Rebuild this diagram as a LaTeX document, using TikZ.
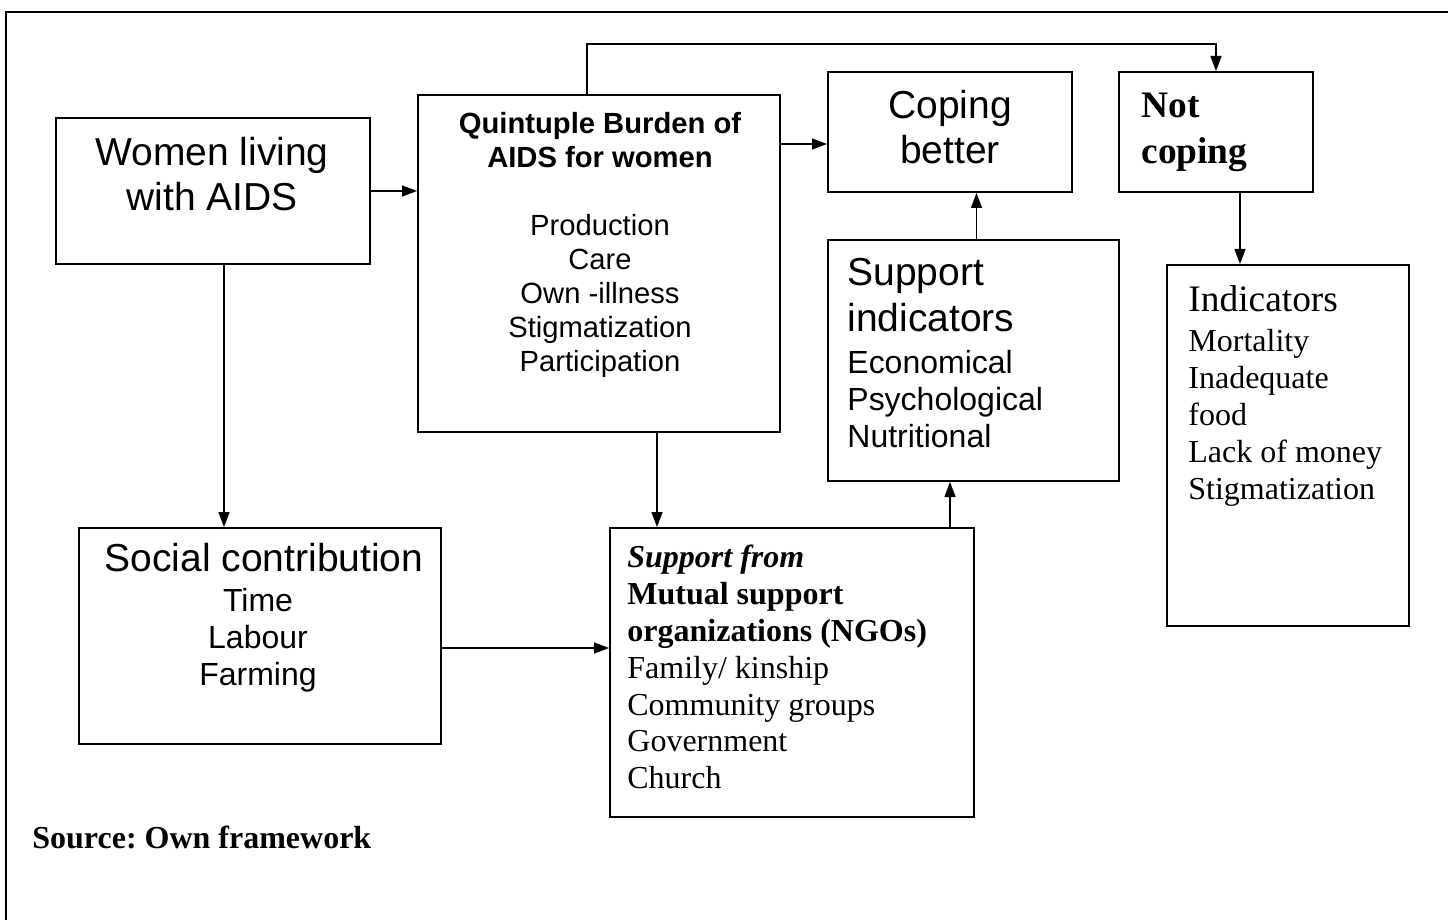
\documentclass[tikz,border=0pt]{standalone}
\usepackage{fontspec}
\setmainfont{Liberation Serif}
\setsansfont{Liberation Sans}
\usetikzlibrary{fit,arrows.meta}
\frenchspacing

\newcommand{\biglbl}{\fontsize{19.5}{22.5}\selectfont}
\newcommand{\medlbl}{\fontsize{16}{18.5}\selectfont}
\newcommand{\quintlbl}{\fontsize{14.6}{17}\selectfont}
\newcommand{\serlbl}{\fontsize{16}{18.4}\selectfont}

\begin{document}
\begin{tikzpicture}[x=0.5pt,y=-0.5pt,
    box/.style={draw,line width=1pt,inner sep=0pt},
    arr/.style={-{Triangle[length=7.5pt,width=5.5pt]},line width=0.7pt},
    lbl/.style={inner sep=0pt}]
  \useasboundingbox (0,0) rectangle (1448,920);
  % frame
  \draw[line width=1pt] (6,920) -- (6,12) -- (1448,12);

  % boxes
  \node[box,fit={(56,118) (370,264)}] (women) {};
  \node[box,fit={(418,95) (780,432)}] (quint) {};
  \node[box,fit={(828,72) (1072,192)}] (coping) {};
  \node[box,fit={(1119,72) (1313,192)}] (notcope) {};
  \node[box,fit={(828,240) (1119,481)}] (supind) {};
  \node[box,fit={(1167,265) (1409,626)}] (indic) {};
  \node[box,fit={(79,528) (441,744)}] (social) {};
  \node[box,fit={(610,528) (974,817)}] (supfrom) {};

  % texts
  \node[lbl,anchor=north,align=center,font=\sffamily\biglbl] (womenlbl) at (212,137)
    {Women living\\with AIDS};
  \node[lbl,anchor=north,align=center,font=\sffamily\quintlbl] (quintlbl) at (600,112)
    {\textbf{Quintuple Burden of}\\\textbf{AIDS for women}\\[17pt]Production\\Care\\Own -illness\\Stigmatization\\Participation};
  \node[lbl,anchor=north,align=center,font=\sffamily\biglbl] (copinglbl) at (950,90)
    {Coping\\better};
  \node[lbl,anchor=north west,align=left,font=\rmfamily\bfseries\fontsize{18.7}{23}\selectfont] (notcopelbl) at (1141,93)
    {Not\\coping};
  \node[lbl,anchor=north west,align=left,font=\sffamily\medlbl] (supindlbl) at (847,258)
    {{\biglbl Support}\\[4.5pt]{\biglbl indicators}\\[2.5pt]Economical\\Psychological\\Nutritional};
  \node[lbl,anchor=north west,align=left,font=\rmfamily\medlbl] (indiclbl) at (1188,285)
    {{\fontsize{18.7}{22}\selectfont Indicators}\\[1.5pt]Mortality\\Inadequate\\food\\Lack of money\\Stigmatization};
  \node[lbl,anchor=north,align=center,font=\sffamily\medlbl] (sociallbl) at (264,543)
    {{\biglbl Social contribution}\\[1.5pt]\hspace*{-6pt}Time\\\hspace*{-6pt}Labour\\\hspace*{-6pt}Farming};
  \node[lbl,anchor=north west,align=left,font=\rmfamily\serlbl] (supfromlbl) at (627,545)
    {\textbf{\textit{Support from}}\\\textbf{Mutual support}\\\textbf{organizations (NGOs)}\\Family/ kinship\\Community groups\\Government\\Church};
  \node[lbl,anchor=north west,font=\rmfamily\bfseries\serlbl] (source) at (32,826)
    {Source: Own framework};

  % connectors
  \draw[arr] (women.east) -- (women.east -| quint.west);
  \draw[arr] ([xshift=5.5pt]women.south) -- ([xshift=5.5pt]women.south |- social.north);
  \draw[arr] ([xshift=-6pt]quint.north) -- ++(0,-50) -| (notcope.north);
  \draw[arr] ([yshift=-6pt]coping.west -| quint.east) -- ([yshift=-6pt]coping.west);
  \draw[arr] ([xshift=29pt]quint.south) -- ([xshift=29pt]quint.south |- supfrom.north);
  \draw[arr] ([yshift=-6pt]social.east) -- ([yshift=-6pt]social.east -| supfrom.west);
  \draw[arr] ([xshift=79pt]supfrom.north) -- ([xshift=79pt]supfrom.north |- supind.south);
  \draw[arr] ([xshift=1.5pt]supind.north) -- ([xshift=1.5pt]supind.north |- coping.south);
  \draw[arr] ([xshift=12pt]notcope.south) -- ([xshift=12pt]notcope.south |- indic.north);
\end{tikzpicture}
\end{document}
